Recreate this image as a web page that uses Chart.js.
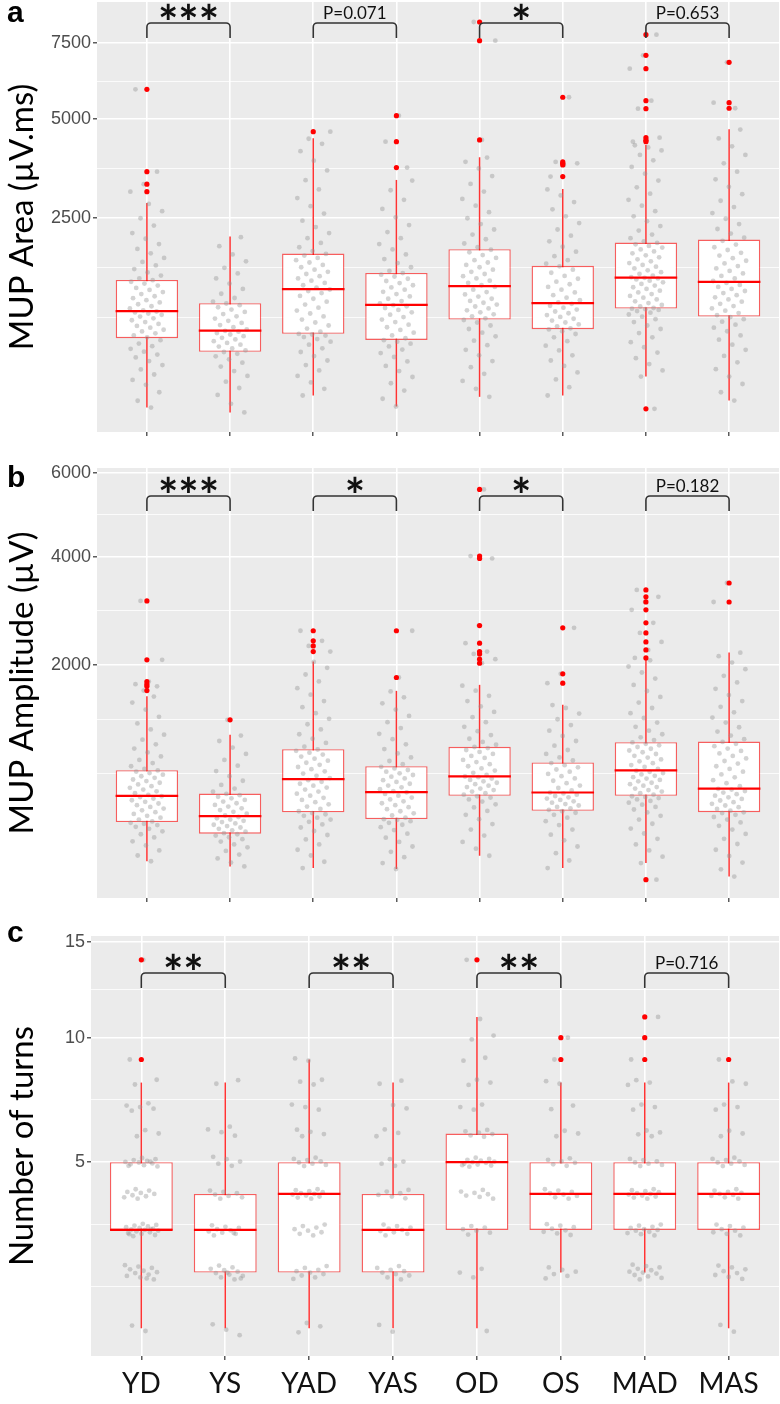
<!DOCTYPE html>
<html>
<head>
<meta charset="utf-8">
<title>MUP parameters by group</title>
<script src="https://cdn.jsdelivr.net/npm/chart.js@4.4.1/dist/chart.umd.min.js"></script>
<style>
  body { margin: 0; background: #ffffff; }
  #page { position: relative; width: 780px; height: 1404px; }
  #page canvas { position: absolute; left: 0; }
</style>
</head>
<body>
<div id="page">
  <canvas id="chartArea" width="780" height="440" style="top:0px"></canvas>
  <canvas id="chartAmp" width="780" height="465" style="top:440px"></canvas>
  <canvas id="chartTurns" width="780" height="499" style="top:905px"></canvas>
</div>
<script>
var categories = ['YD', 'YS', 'YAD', 'YAS', 'OD', 'OS', 'MAD', 'MAS'];
var bracketPairs = [[0, 1], [2, 3], [4, 5], [6, 7]];

// a: MUP area (uV.ms)
var areaTicks = [2500, 5000, 7500];
var areaLow = [108, 88, 167, 113, 160, 167, 285, 141];
var areaQ1 = [621, 487, 667, 603, 830, 718, 968, 867];
var areaMed = [934, 703, 1237, 1016, 1281, 1039, 1413, 1346];
var areaQ3 = [1377, 1039, 1816, 1488, 1895, 1605, 2017, 2074];
var areaHigh = [2831, 2131, 4453, 3366, 3939, 3151, 4269, 4709];
var areaOut = [
  [5926, 3570, 3263, 3088], [], [4640], [5107, 4360, 3672],
  [8290, 7594, 4406], [5672, 3817, 3780, 3740, 3447],
  [7815, 7071, 6608, 5565, 5318, 4470, 4400, 4360, 103], [6826, 5503, 5330]
];
var areaPoints = [
  [108, 140, 185, 230, 262, 300, 338, 372, 405, 436, 462, 488, 515, 540, 566, 600, 630, 650, 672, 693, 712, 735, 755, 778, 800, 822, 845, 866, 888, 905, 918, 930, 945, 970, 998, 1025, 1050, 1080, 1108, 1135, 1165, 1195, 1225, 1255, 1290, 1320, 1348, 1372, 1400, 1445, 1495, 1550, 1610, 1670, 1740, 1820, 1900, 1990, 2090, 2200, 2350, 2500, 2650, 2810],
  [88, 125, 170, 210, 250, 290, 325, 360, 392, 420, 446, 468, 485, 500, 518, 536, 555, 572, 590, 608, 625, 642, 660, 676, 690, 700, 715, 740, 765, 790, 815, 842, 870, 898, 925, 955, 985, 1012, 1035, 1060, 1110, 1170, 1240, 1320, 1400, 1480, 1570, 1680, 1800, 1950, 2120],
  [167, 205, 245, 290, 330, 372, 410, 448, 485, 520, 555, 585, 612, 632, 648, 660, 666, 690, 725, 760, 795, 830, 868, 905, 942, 980, 1020, 1060, 1100, 1140, 1180, 1210, 1232, 1260, 1295, 1330, 1365, 1400, 1435, 1470, 1505, 1540, 1580, 1620, 1660, 1700, 1740, 1780, 1810, 1860, 1930, 2010, 2100, 2200, 2320, 2450, 2600, 2760, 2940, 3140, 3360, 3600, 3850, 4100, 4300, 4440],
  [113, 150, 195, 240, 282, 325, 365, 402, 440, 475, 508, 538, 565, 585, 600, 620, 650, 680, 710, 740, 770, 800, 830, 860, 890, 920, 950, 975, 998, 1012, 1035, 1068, 1100, 1132, 1165, 1198, 1230, 1262, 1295, 1328, 1360, 1395, 1430, 1460, 1485, 1520, 1580, 1650, 1720, 1800, 1890, 1990, 2100, 2220, 2360, 2520, 2700, 2900, 3120, 3350],
  [160, 205, 255, 305, 355, 405, 455, 505, 550, 595, 640, 680, 720, 760, 795, 825, 845, 870, 895, 920, 945, 970, 995, 1020, 1045, 1070, 1100, 1130, 1160, 1195, 1230, 1270, 1295, 1330, 1365, 1400, 1435, 1470, 1505, 1540, 1580, 1620, 1660, 1700, 1740, 1790, 1840, 1885, 1930, 2000, 2080, 2170, 2270, 2380, 2500, 2630, 2770, 2920, 3090, 3270, 3460, 3650, 3820, 3930],
  [167, 215, 265, 315, 365, 410, 455, 500, 545, 590, 630, 665, 695, 715, 728, 750, 772, 795, 818, 840, 862, 885, 908, 930, 955, 980, 1005, 1030, 1050, 1080, 1115, 1150, 1190, 1230, 1270, 1310, 1350, 1395, 1440, 1490, 1540, 1595, 1640, 1700, 1770, 1850, 1940, 2040, 2150, 2270, 2400, 2540, 2690, 2850, 3000, 3140],
  [285, 330, 380, 430, 480, 530, 580, 630, 675, 720, 760, 800, 835, 865, 892, 915, 935, 950, 960, 966, 975, 995, 1015, 1040, 1065, 1090, 1115, 1140, 1165, 1190, 1215, 1240, 1265, 1290, 1315, 1340, 1365, 1385, 1400, 1410, 1420, 1445, 1470, 1500, 1530, 1560, 1590, 1620, 1650, 1680, 1715, 1750, 1785, 1820, 1855, 1890, 1925, 1955, 1985, 2010, 2040, 2100, 2170, 2250, 2340, 2440, 2540, 2650, 2770, 2900, 3040, 3190, 3350, 3520, 3690, 3860, 4000, 4120, 4200, 4260],
  [141, 185, 235, 285, 340, 395, 450, 505, 555, 605, 650, 695, 735, 770, 805, 835, 860, 885, 910, 940, 970, 1000, 1030, 1060, 1090, 1120, 1150, 1180, 1210, 1240, 1270, 1300, 1330, 1360, 1400, 1440, 1480, 1520, 1560, 1600, 1645, 1690, 1735, 1780, 1830, 1880, 1930, 1980, 2050, 2110, 2190, 2280, 2380, 2490, 2610, 2740, 2880, 3030, 3200, 3380, 3570, 3780, 4000, 4230, 4450, 4700]
];
var areaSig = ['***', 'P=0.071', '*', 'P=0.653'];

// b: MUP amplitude (uV)
var ampTicks = [2000, 4000, 6000];
var ampLow = [127, 108, 102, 99, 149, 102, 120, 75];
var ampQ1 = [322, 255, 385, 341, 503, 395, 503, 386];
var ampMed = [503, 360, 639, 532, 663, 529, 717, 560];
var ampQ3 = [719, 521, 924, 756, 948, 791, 998, 1005];
var ampHigh = [1554, 1078, 2055, 1627, 1711, 1440, 2082, 2197];
var ampOut = [
  [3101, 2082, 1758, 1720, 1690, 1631], [1253], [2560, 2388, 2304, 2213], [2560, 1816],
  [5580, 4010, 3960, 2650, 2350, 2213, 2176, 2093, 2031], [2610, 1870, 1735],
  [3313, 3178, 3082, 2933, 2698, 2523, 2371, 2240, 2112, 66], [3450, 3080]
];
var ampPoints = [
  [127, 150, 172, 195, 215, 235, 252, 268, 282, 294, 304, 312, 318, 326, 338, 350, 362, 374, 386, 398, 410, 422, 434, 446, 458, 470, 482, 494, 500, 510, 524, 538, 552, 566, 580, 594, 608, 622, 636, 650, 664, 678, 692, 706, 716, 730, 755, 785, 815, 850, 890, 930, 975, 1025, 1080, 1140, 1210, 1290, 1380, 1470, 1550],
  [108, 122, 138, 154, 170, 186, 200, 214, 226, 236, 245, 252, 258, 266, 274, 282, 290, 298, 306, 314, 322, 330, 338, 346, 354, 364, 376, 388, 400, 412, 424, 436, 448, 460, 472, 484, 496, 508, 518, 535, 560, 590, 625, 665, 710, 760, 815, 875, 940, 1010, 1070],
  [102, 125, 150, 175, 200, 225, 248, 270, 290, 308, 324, 338, 350, 362, 372, 380, 392, 408, 424, 440, 456, 472, 488, 504, 520, 536, 552, 568, 584, 600, 616, 630, 648, 668, 688, 708, 728, 748, 768, 788, 808, 828, 848, 868, 888, 906, 920, 950, 990, 1035, 1085, 1140, 1200, 1265, 1335, 1410, 1490, 1575, 1665, 1760, 1860, 1960, 2050],
  [99, 120, 143, 166, 190, 212, 234, 255, 275, 292, 306, 318, 328, 336, 340, 350, 364, 378, 392, 406, 420, 434, 448, 462, 476, 490, 504, 518, 530, 540, 555, 570, 585, 600, 615, 630, 645, 660, 675, 690, 705, 720, 735, 750, 775, 805, 840, 880, 925, 975, 1030, 1090, 1155, 1225, 1300, 1380, 1460, 1540, 1620],
  [149, 180, 212, 245, 278, 310, 340, 368, 394, 418, 440, 460, 476, 490, 500, 512, 524, 536, 548, 560, 572, 584, 596, 608, 620, 632, 644, 656, 662, 675, 695, 715, 735, 755, 775, 795, 815, 835, 855, 875, 895, 915, 935, 946, 970, 1000, 1035, 1075, 1120, 1170, 1225, 1285, 1350, 1420, 1490, 1560, 1630, 1700],
  [102, 130, 160, 190, 220, 250, 278, 304, 328, 350, 368, 382, 392, 402, 412, 422, 432, 442, 452, 462, 472, 482, 492, 502, 512, 522, 528, 545, 565, 585, 605, 625, 645, 665, 685, 705, 725, 745, 765, 785, 810, 840, 875, 915, 960, 1010, 1065, 1125, 1190, 1260, 1330, 1400, 1438],
  [120, 145, 172, 200, 228, 256, 284, 312, 338, 362, 384, 404, 422, 438, 452, 465, 476, 486, 494, 500, 512, 524, 536, 548, 560, 572, 584, 596, 608, 620, 632, 644, 656, 668, 680, 692, 704, 714, 730, 748, 766, 784, 802, 820, 838, 856, 874, 892, 910, 928, 946, 964, 980, 995, 1020, 1050, 1085, 1125, 1170, 1220, 1275, 1335, 1400, 1470, 1545, 1625, 1710, 1800, 1890, 1980, 2075],
  [75, 98, 122, 148, 175, 202, 228, 254, 278, 300, 320, 338, 354, 368, 380, 385, 396, 408, 420, 432, 444, 456, 468, 480, 492, 504, 516, 528, 540, 552, 558, 580, 605, 630, 655, 680, 705, 730, 755, 780, 805, 830, 855, 880, 905, 930, 955, 980, 1000, 1030, 1070, 1115, 1165, 1220, 1280, 1345, 1415, 1490, 1570, 1655, 1745, 1840, 1940, 2040, 2140, 2195]
];
var ampSig = ['***', '*', '*', 'P=0.182'];

// c: number of turns
var turnTicks = [5, 10, 15];
var turnLow = [1, 1, 1, 1, 1, 2, 2, 1];
var turnQ1 = [3, 2, 2, 2, 3, 3, 3, 3];
var turnMed = [3, 3, 4, 3, 5, 4, 4, 4];
var turnQ3 = [5, 4, 5, 4, 6, 5, 5, 5];
var turnHigh = [8, 8, 9, 8, 11, 8, 8, 8];
var turnOut = [[14, 9], [], [], [], [14], [10, 9], [11, 10, 9], [9]];
var turnPoints = [
  [0.96, 1.04, 1.86, 1.9, 1.93, 1.96, 1.99, 2.01, 2.04, 2.07, 2.1, 2.13, 2.16, 1.88, 2.84, 2.87, 2.9, 2.92, 2.94, 2.96, 2.98, 3.0, 3.01, 3.03, 3.05, 3.07, 3.09, 3.11, 3.13, 3.16, 2.89, 3.02, 3.86, 3.9, 3.93, 3.96, 4.0, 4.03, 4.06, 4.1, 4.14, 4.86, 4.9, 4.93, 4.96, 4.99, 5.01, 5.04, 5.07, 5.1, 5.14, 4.88, 5.02, 5.9, 6.0, 6.12, 6.86, 6.94, 7.0, 7.06, 7.15, 7.92, 8.12],
  [0.9, 0.98, 1.06, 1.86, 1.9, 1.93, 1.96, 1.99, 2.02, 2.05, 2.08, 2.11, 2.15, 1.88, 2.0, 2.86, 2.9, 2.93, 2.96, 2.99, 3.02, 3.05, 3.08, 3.12, 2.92, 3.86, 3.9, 3.94, 3.98, 4.02, 4.06, 4.1, 4.88, 4.95, 5.02, 5.1, 5.18, 5.92, 6.05, 6.15, 6.25, 7.95, 8.1],
  [0.94, 1.03, 1.08, 1.87, 1.9, 1.94, 1.97, 2.0, 2.03, 2.06, 2.1, 2.14, 2.86, 2.9, 2.94, 2.98, 3.02, 3.06, 3.1, 3.14, 3.86, 3.89, 3.92, 3.95, 3.98, 4.0, 4.02, 4.05, 4.08, 4.11, 4.14, 4.87, 4.91, 4.95, 4.99, 5.03, 5.07, 5.11, 5.15, 5.9, 5.98, 6.06, 6.14, 6.9, 7.0, 7.1, 7.92, 8.04, 8.12, 8.95, 9.05],
  [0.95, 1.05, 1.86, 1.9, 1.94, 1.97, 2.0, 2.03, 2.06, 2.1, 2.14, 2.86, 2.9, 2.94, 2.97, 3.0, 3.03, 3.06, 3.1, 3.14, 3.87, 3.92, 3.97, 4.02, 4.07, 4.12, 4.88, 4.95, 5.02, 5.1, 5.9, 6.02, 6.15, 6.95, 7.08, 7.95, 8.08],
  [0.96, 1.9, 2.0, 2.08, 2.88, 2.93, 2.98, 3.02, 3.06, 3.1, 3.86, 3.91, 3.95, 3.99, 4.03, 4.07, 4.12, 4.85, 4.89, 4.92, 4.95, 4.98, 5.0, 5.02, 5.05, 5.08, 5.11, 5.15, 4.9, 5.88, 5.93, 5.98, 6.03, 6.08, 6.13, 6.9, 7.0, 7.1, 7.9, 8.0, 8.12, 8.95, 9.08, 9.92, 10.1, 10.9],
  [1.88, 1.93, 1.97, 2.02, 2.06, 2.11, 2.87, 2.91, 2.95, 2.99, 3.03, 3.07, 3.11, 3.15, 3.86, 3.9, 3.94, 3.98, 4.02, 4.06, 4.1, 4.14, 4.88, 4.93, 4.98, 5.03, 5.08, 5.13, 5.9, 6.0, 6.1, 6.92, 7.06, 7.95, 8.06],
  [1.86, 1.89, 1.92, 1.95, 1.98, 2.0, 2.02, 2.05, 2.08, 2.11, 2.14, 2.17, 2.86, 2.89, 2.92, 2.95, 2.98, 3.0, 3.02, 3.05, 3.08, 3.11, 3.14, 3.86, 3.89, 3.92, 3.95, 3.98, 4.0, 4.02, 4.05, 4.08, 4.11, 4.14, 4.87, 4.91, 4.95, 4.99, 5.03, 5.07, 5.11, 5.9, 5.97, 6.04, 6.11, 6.9, 7.0, 7.1, 7.9, 8.0, 8.1],
  [0.95, 1.05, 1.87, 1.91, 1.95, 1.99, 2.03, 2.07, 2.11, 2.15, 2.86, 2.9, 2.94, 2.98, 3.02, 3.06, 3.1, 3.14, 3.86, 3.9, 3.94, 3.97, 4.0, 4.03, 4.06, 4.1, 4.14, 4.87, 4.91, 4.95, 4.99, 5.03, 5.07, 5.11, 5.15, 5.9, 6.0, 6.1, 6.9, 7.0, 7.1, 7.95, 8.05]
];
var turnSig = ['**', '**', '**', 'P=0.716'];

// square-root y axis, like ggplot's scale_y_sqrt
class SqrtScale extends Chart.LinearScale {
  getPixelForValue(value) {
    var lo = Math.sqrt(this.min), hi = Math.sqrt(this.max);
    return this.getPixelForDecimal((Math.sqrt(Math.max(value, 0)) - lo) / (hi - lo));
  }
  getValueForPixel(pixel) {
    var lo = Math.sqrt(this.min), hi = Math.sqrt(this.max);
    var s = lo + this.getDecimalForPixel(pixel) * (hi - lo);
    return s * s;
  }
}
SqrtScale.id = 'sqrt';
SqrtScale.defaults = Chart.LinearScale.defaults;
Chart.register(SqrtScale);

// major ticks plus ggplot-style minor grid (midpoints in sqrt space)
function sqrtGrid(majors, min, max) {
  var b = majors.map(Math.sqrt);
  var bd = b[1] - b[0];
  var s = [b[0] - bd].concat(b, [b[b.length - 1] + bd]);
  var ticks = majors.map(function (v) { return {value: v, major: true}; });
  var extra = [s[0], s[s.length - 1]];
  for (var i = 0; i < s.length - 1; i++) extra.push((s[i] + s[i + 1]) / 2);
  extra.forEach(function (r) {
    var v = r * r;
    if (r > 0 && v >= min && v <= max) ticks.push({value: v, major: false});
  });
  return ticks.sort(function (a, b) { return a.value - b.value; });
}

function jitter(k, g) {
  return (((k + 1) * 0.618034 + g * 0.29) % 1 - 0.5) * 0.42;
}

function boxDatasets(low, q1, med, q3, high, outliers, points) {
  var whisk = [], boxes = [], meds = [], outs = [], dots = [];
  for (var i = 0; i < categories.length; i++) {
    var x = i + 1;
    whisk.push({x: x, y: [low[i], high[i]]});
    boxes.push({x: x, y: [q1[i], q3[i]]});
    meds.push({x: x, y: med[i]});
    outliers[i].forEach(function (v) { outs.push({x: x, y: v}); });
    points[i].concat(outliers[i]).forEach(function (v, k) {
      dots.push({x: x + jitter(k, i), y: v});
    });
  }
  return [
    {type: 'bar', data: whisk, backgroundColor: 'rgba(255,0,0,0.8)', maxBarThickness: 1.5,
      grouped: false, order: 5},
    {type: 'bar', data: boxes, backgroundColor: '#ffffff', borderColor: 'rgba(255,0,0,0.6)',
      borderWidth: 1.4, borderSkipped: false, grouped: false, categoryPercentage: 1,
      barPercentage: 0.75, order: 4},
    {type: 'scatter', data: dots, pointRadius: 2.4, backgroundColor: 'rgba(150,150,150,0.42)',
      borderWidth: 0, order: 3},
    {type: 'scatter', data: meds, pointStyle: 'line', pointRadius: 31.3, borderColor: '#ff0000',
      borderWidth: 2.2, order: 2},
    {type: 'scatter', data: outs, pointRadius: 2.6, backgroundColor: '#ff0000', borderWidth: 0, order: 1}
  ];
}

var decorPlugin = {
  id: 'decor',
  beforeDraw: function (chart) {
    var a = chart.chartArea, ctx = chart.ctx;
    ctx.save();
    ctx.fillStyle = '#ebebeb';
    ctx.fillRect(a.left, a.top, a.right - a.left, a.bottom - a.top);
    ctx.restore();
  },
  afterDatasetsDraw: function (chart, args, opts) {
    var ctx = chart.ctx, xs = chart.scales.x;
    var top = chart.chartArea.top + opts.bracketTop;
    ctx.save();
    ctx.strokeStyle = '#333333';
    ctx.lineWidth = 1.6;
    ctx.fillStyle = '#111111';
    ctx.textAlign = 'center';
    bracketPairs.forEach(function (pair, i) {
      var x1 = xs.getPixelForValue(pair[0] + 1), x2 = xs.getPixelForValue(pair[1] + 1);
      var r = 4, drop = 15;
      ctx.beginPath();
      ctx.moveTo(x1, top + drop);
      ctx.arcTo(x1, top, x1 + r, top, r);
      ctx.arcTo(x2, top, x2, top + r, r);
      ctx.lineTo(x2, top + drop);
      ctx.stroke();
      var label = opts.labels[i];
      var stars = label.charAt(0) === '*';
      ctx.font = stars ? 'bold 48px Lato' : '17px Lato';
      var m = ctx.measureText(label);
      var centre = top - (stars ? 12 : 10.5);
      ctx.fillText(label, (x1 + x2) / 2, centre + (m.actualBoundingBoxAscent - m.actualBoundingBoxDescent) / 2);
    });
    ctx.restore();
  },
  afterDraw: function (chart, args, opts) {
    var ctx = chart.ctx;
    ctx.save();
    ctx.fillStyle = '#000000';
    ctx.font = 'bold 30px "Liberation Sans"';
    ctx.textAlign = 'left';
    ctx.fillText(opts.letter, 7, opts.letterY);
    ctx.restore();
  }
};

function makePanel(id, p) {
  var grid = sqrtGrid(p.ticks, p.min, p.max);
  return new Chart(document.getElementById(id), {
    type: 'bar',
    data: {datasets: boxDatasets(p.low, p.q1, p.med, p.q3, p.high, p.out, p.points)},
    options: {
      responsive: false,
      animation: false,
      layout: {autoPadding: false, padding: {top: p.padTop, right: 1, left: 0, bottom: 0}},
      plugins: {
        legend: {display: false},
        tooltip: {enabled: false},
        decor: {labels: p.sig, bracketTop: p.bracketTop, letter: p.letter, letterY: p.letterY}
      },
      scales: {
        x: {
          type: 'linear', min: 0.4, max: 8.6, offset: false,
          afterBuildTicks: function (scale) {
            scale.ticks = categories.map(function (c, i) { return {value: i + 1}; });
          },
          afterFit: function (scale) {
            scale.height = p.xHeight;
            scale.paddingLeft = 0;
            scale.paddingRight = 0;
          },
          border: {display: false},
          grid: {color: '#ffffff', lineWidth: 1.6, offset: false, tickColor: '#333333', tickLength: 4, tickWidth: 1.2},
          ticks: {
            display: p.showLabels, autoSkip: false, maxRotation: 0, padding: 7,
            color: '#111111', font: {family: 'Lato', size: 28},
            callback: function (v) { return categories[v - 1]; }
          }
        },
        y: {
          type: 'sqrt', min: p.min, max: p.max, bounds: 'data',
          afterBuildTicks: function (scale) { scale.ticks = grid.slice(); },
          afterFit: function (scale) {
            scale.width = p.yWidth;
            scale.paddingTop = 0;
            scale.paddingBottom = 0;
          },
          border: {display: false},
          grid: {
            color: '#ffffff',
            lineWidth: function (c) { return c.tick && c.tick.major ? 1.6 : 0.8; },
            tickColor: function (c) { return c.tick && c.tick.major ? '#333333' : 'rgba(0,0,0,0)'; },
            tickLength: 4, tickWidth: 1.2
          },
          ticks: {
            autoSkip: false, padding: 2, color: '#4d4d4d',
            font: {family: 'Liberation Sans', size: 18},
            callback: function (v, i, ticks) { return ticks[i].major ? String(v) : ''; }
          },
          title: {
            display: true, text: p.title, color: '#000000',
            font: {family: 'Lato', size: 33}, padding: {top: 3, bottom: 0}
          }
        }
      }
    },
    plugins: [decorPlugin]
  });
}

makePanel('chartArea', {
  ticks: areaTicks, min: 28, max: 9070, low: areaLow, q1: areaQ1, med: areaMed, q3: areaQ3,
  high: areaHigh, out: areaOut, points: areaPoints, sig: areaSig, title: 'MUP Area (µV.ms)',
  padTop: 2, xHeight: 8, yWidth: 97, bracketTop: 21, letter: 'a', letterY: 22, showLabels: false
});
makePanel('chartAmp', {
  ticks: ampTicks, min: 25, max: 6140, low: ampLow, q1: ampQ1, med: ampMed, q3: ampQ3,
  high: ampHigh, out: ampOut, points: ampPoints, sig: ampSig, title: 'MUP Amplitude (µV)',
  padTop: 28, xHeight: 7, yWidth: 97, bracketTop: 28, letter: 'b', letterY: 47, showLabels: false
});
makePanel('chartTurns', {
  ticks: turnTicks, min: 0.63, max: 15.36, low: turnLow, q1: turnQ1, med: turnMed, q3: turnQ3,
  high: turnHigh, out: turnOut, points: turnPoints, sig: turnSig, title: 'Number of turns',
  padTop: 31, xHeight: 48, yWidth: 91, bracketTop: 37, letter: 'c', letterY: 37, showLabels: true
});
</script>
</body>
</html>
